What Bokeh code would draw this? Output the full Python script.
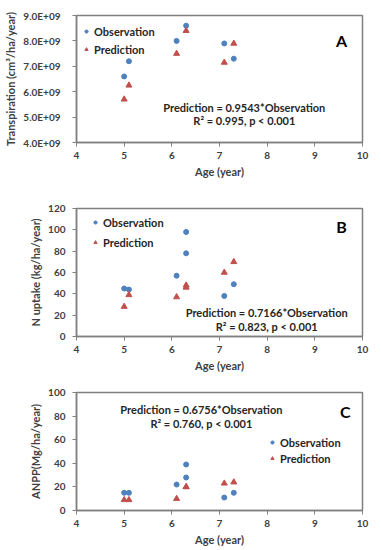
from bokeh.plotting import figure
from bokeh.layouts import column
from bokeh.models import FixedTicker, CustomJSTickFormatter, Legend, LegendItem, Label, Range1d
from bokeh.embed import file_html
from bokeh.resources import INLINE

# ---- data ----
age_ticks = [4, 5, 6, 7, 8, 9, 10]

# Panel A: transpiration (cm3/ha/year)
a_age = [5.0, 5.1, 6.1, 6.3, 7.1, 7.3]
a_obs = [6.6e9, 7.2e9, 8.0e9, 8.6e9, 7.9e9, 7.3e9]
a_pred = [5.7e9, 6.25e9, 7.5e9, 8.4e9, 7.15e9, 7.9e9]
a_ticks = [4e9, 5e9, 6e9, 7e9, 8e9, 9e9]

# Panel B: N uptake (kg/ha/year)
b_age = [5.0, 5.1, 6.1, 6.3, 6.3, 7.1, 7.3]
b_obs = [45, 44, 57, 98, 78, 38, 49]
b_pred = [28, 39, 37, 48, 46, 60, 70]
b_ticks = [0, 20, 40, 60, 80, 100, 120]

# Panel C: ANPP (Mg/ha/year)
c_age = [5.0, 5.1, 6.1, 6.3, 6.3, 7.1, 7.3]
c_obs = [15, 15, 22, 39, 28, 11, 15]
c_pred = [9, 9, 10, 20, 20, 23, 24]
c_ticks = [0, 20, 40, 60, 80, 100]

FONT = "Lato"
TXT = "#262626"
AX = "#404040"
FRAME = "#808080"
BLUE = "#4F81BD"
RED = "#C0504D"


def make_panel(age, obs, pred, yticks, yr, ylabel, height, btop, bbottom, ystand,
               eq1, eq2, eqx, eqy1, eqy2, letter, lx, ly, legloc, spacing):
    p = figure(width=380, height=height, output_backend="svg", toolbar_location=None,
               x_range=Range1d(4, 10), y_range=Range1d(*yr), title=None,
               min_border_left=76, min_border_right=18,
               min_border_top=btop, min_border_bottom=bbottom)
    p.grid.visible = False
    p.outline_line_color = FRAME
    p.outline_line_width = 1.5
    p.background_fill_color = "white"
    p.border_fill_color = "white"
    for ax in (p.xaxis[0], p.yaxis[0]):
        ax.axis_line_color = FRAME
        ax.axis_line_width = 1.5
        ax.major_tick_line_color = FRAME
        ax.major_tick_out = 4
        ax.major_tick_in = 0
        ax.minor_tick_line_color = None
        ax.major_label_text_font = FONT
        ax.major_label_text_font_size = "10px"
        ax.major_label_text_font_style = "bold"
        ax.major_label_text_color = AX
        ax.axis_label_text_font = FONT
        ax.axis_label_text_font_size = "11px"
        ax.axis_label_text_font_style = "bold"
        ax.axis_label_text_color = AX
        ax.axis_label_standoff = 3
    p.xaxis.major_label_standoff = 5
    p.yaxis.major_label_standoff = ystand
    p.xaxis.ticker = FixedTicker(ticks=age_ticks)
    p.yaxis.ticker = FixedTicker(ticks=yticks)
    p.xaxis.axis_label = "Age (year)"
    p.yaxis.axis_label = ylabel

    r1 = p.scatter(age, obs, marker="circle", size=5, fill_color=BLUE, line_color=BLUE)
    r2 = p.scatter(age, pred, marker="triangle", size=6, fill_color=RED, line_color=RED)

    leg = Legend(items=[LegendItem(label="Observation", renderers=[r1]),
                        LegendItem(label="Prediction", renderers=[r2])],
                 location=legloc, orientation="vertical",
                 border_line_color=None, background_fill_alpha=0,
                 padding=0, margin=0, spacing=spacing,
                 glyph_width=8, glyph_height=8, label_height=14,
                 label_standoff=4,
                 label_text_font=FONT, label_text_font_size="11px",
                 label_text_font_style="bold", label_text_color=TXT)
    p.add_layout(leg, "center")

    for txt, yy in ((eq1, eqy1), (eq2, eqy2)):
        p.add_layout(Label(x=eqx, y=yy, text=txt, text_align="center", text_baseline="middle",
                           text_font=FONT, text_font_size="11px", text_font_style="bold",
                           text_color=TXT))
    p.add_layout(Label(x=lx, y=ly, text=letter, text_align="center", text_baseline="middle",
                       text_font=FONT, text_font_size="16px", text_font_style="bold",
                       text_color="#000000"))
    return p


pa = make_panel(a_age, a_obs, a_pred, a_ticks, (4e9, 9e9), "Transpiration (cm\u00b3/ha/year)",
                190, 15, 48, 12,
                "Prediction = 0.9543*Observation", "R\u00b2 = 0.995, p < 0.001",
                7.52, 5.38e9, 4.87e9, "A", 9.56, 8.02e9, (6, 86), 4)
pa.yaxis.formatter = CustomJSTickFormatter(code="return (tick/1e9).toFixed(1) + 'E+09';")

pb = make_panel(b_age, b_obs, b_pred, b_ticks, (0, 120), "N uptake (kg/ha/year)",
                186, 18, 40, 7,
                "Prediction = 0.7166*Observation", "R\u00b2 = 0.823, p < 0.001",
                7.99, 22.5, 9.4, "B", 9.56, 103, (15, 87), 6)

pc = make_panel(c_age, c_obs, c_pred, c_ticks, (0, 100), "ANPP(Mg/ha/year)",
                172, 16, 34, 7,
                "Prediction = 0.6756*Observation", "R\u00b2 = 0.760, p < 0.001",
                6.62, 85.2, 73.8, "C", 9.64, 83.6, (192, 45), 2)

layout = column(pa, pb, pc, spacing=0)
open("out.html", "w").write(file_html(layout, INLINE))
